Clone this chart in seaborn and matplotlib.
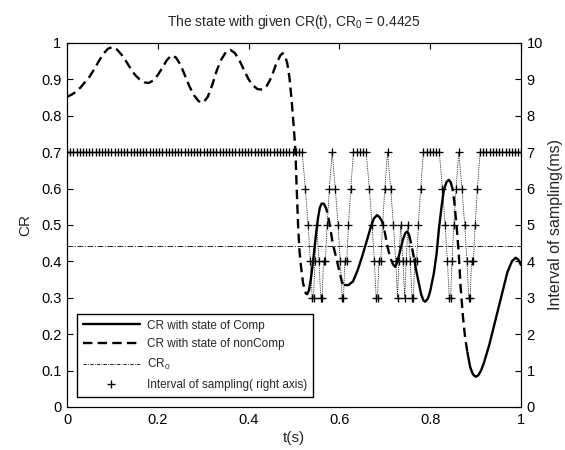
import numpy as np
import pandas as pd
import matplotlib
matplotlib.use("Agg")
import matplotlib.pyplot as plt
from matplotlib.lines import Line2D
import seaborn as sns

# ---------------- data ----------------
cr0 = 0.4425

# CR trajectory while the state is "nonComp" (dashed), one list per segment
noncomp_t = [
    [0.00, 0.01, 0.02, 0.03, 0.04, 0.05, 0.06, 0.07, 0.08, 0.09, 0.10, 0.11, 0.12, 0.13,
     0.14, 0.15, 0.16, 0.17, 0.18, 0.19, 0.20, 0.21, 0.22, 0.23, 0.24, 0.25, 0.26, 0.27,
     0.28, 0.29, 0.30, 0.31, 0.32, 0.33, 0.34, 0.35, 0.36, 0.37, 0.38, 0.39, 0.40, 0.41,
     0.42, 0.43, 0.44, 0.45, 0.46, 0.47, 0.475, 0.48, 0.485, 0.49, 0.495, 0.50, 0.503,
     0.506, 0.509, 0.512, 0.515, 0.52, 0.526, 0.529],
    [0.566, 0.571, 0.576, 0.580, 0.585, 0.590, 0.595, 0.600, 0.606, 0.612],
    [0.688, 0.694, 0.700, 0.706, 0.712, 0.718, 0.723],
    [0.753, 0.757, 0.761, 0.765],
    [0.845, 0.849, 0.853, 0.858, 0.863, 0.867, 0.872, 0.877, 0.882],
]
noncomp_cr = [
    [0.852, 0.858, 0.866, 0.878, 0.893, 0.908, 0.928, 0.950, 0.970, 0.984, 0.989, 0.982,
     0.968, 0.950, 0.930, 0.912, 0.900, 0.892, 0.890, 0.897, 0.912, 0.932, 0.953, 0.966,
     0.960, 0.940, 0.910, 0.880, 0.856, 0.840, 0.836, 0.852, 0.885, 0.925, 0.955, 0.975,
     0.981, 0.972, 0.952, 0.925, 0.900, 0.883, 0.873, 0.872, 0.882, 0.905, 0.940, 0.966,
     0.972, 0.965, 0.945, 0.905, 0.840, 0.760, 0.706, 0.600, 0.500, 0.430, 0.390, 0.340,
     0.312, 0.310],
    [0.558, 0.545, 0.520, 0.490, 0.452, 0.425, 0.400, 0.372, 0.342, 0.335],
    [0.522, 0.510, 0.480, 0.440, 0.410, 0.392, 0.385],
    [0.475, 0.455, 0.430, 0.405],
    [0.618, 0.600, 0.565, 0.500, 0.420, 0.330, 0.250, 0.190, 0.150],
]

# CR trajectory while the state is "Comp" (solid)
comp_t = [
    [0.529, 0.533, 0.537, 0.542, 0.548, 0.553, 0.557, 0.561, 0.566],
    [0.612, 0.620, 0.630, 0.640, 0.650, 0.660, 0.670, 0.676, 0.683, 0.688],
    [0.723, 0.728, 0.734, 0.740, 0.745, 0.749, 0.753],
    [0.765, 0.770, 0.775, 0.780, 0.785, 0.789, 0.795, 0.800, 0.808, 0.814, 0.819, 0.825,
     0.830, 0.836, 0.841, 0.845],
    [0.882, 0.888, 0.894, 0.900, 0.906, 0.912, 0.918, 0.930, 0.940, 0.950, 0.962, 0.970,
     0.980, 0.988, 0.994, 1.000],
]
comp_cr = [
    [0.310, 0.320, 0.350, 0.400, 0.470, 0.520, 0.548, 0.559, 0.558],
    [0.335, 0.335, 0.345, 0.375, 0.413, 0.455, 0.498, 0.518, 0.527, 0.522],
    [0.385, 0.400, 0.430, 0.460, 0.477, 0.482, 0.475],
    [0.405, 0.370, 0.340, 0.310, 0.293, 0.289, 0.298, 0.318, 0.367, 0.420, 0.486, 0.550,
     0.596, 0.618, 0.624, 0.618],
    [0.150, 0.110, 0.090, 0.083, 0.087, 0.100, 0.120, 0.170, 0.220, 0.270, 0.330, 0.370,
     0.400, 0.410, 0.405, 0.390],
]

# sampling interval (ms) of each consecutive sample
sample_interval_ms = (
    [7] * 75
    + [6, 5, 4, 3, 3, 4, 5, 4, 3, 3, 4, 4, 5, 6, 7]
    + [6, 5, 4, 3, 3, 4, 4, 5, 6, 7, 7, 7, 7, 7]
    + [6, 5, 4, 3, 3, 4, 4, 5, 6, 7]
    + [6, 5, 4, 3, 4, 5, 4, 3, 4, 5, 4, 3, 3, 4, 4, 5, 6, 7, 7, 7, 7, 7, 7]
    + [6, 5, 4, 3, 3, 4, 5, 6, 7]
    + [6, 5, 4, 3, 3, 4, 4, 5, 6]
    + [7] * 14
)

x_ticks = [0, 0.2, 0.4, 0.6, 0.8, 1]
x_ticklabels = ["0", "0.2", "0.4", "0.6", "0.8", "1"]
y_ticks = [0, 0.1, 0.2, 0.3, 0.4, 0.5, 0.6, 0.7, 0.8, 0.9, 1]
y_ticklabels = ["0", "0.1", "0.2", "0.3", "0.4", "0.5", "0.6", "0.7", "0.8", "0.9", "1"]
y2_ticks = [0, 1, 2, 3, 4, 5, 6, 7, 8, 9, 10]

legend_labels = ["CR with state of Comp", "CR with state of nonComp",
                 "CR$_\\mathregular{0}$", "Interval of sampling( right axis)"]

# ---------------- tables ----------------
def seg_frame(ts, crs):
    rows = []
    for i, (tt, cc) in enumerate(zip(ts, crs)):
        for a, b in zip(tt, cc):
            rows.append((a, b, i))
    return pd.DataFrame(rows, columns=["t", "cr", "seg"])

df_comp = seg_frame(comp_t, comp_cr)
df_noncomp = seg_frame(noncomp_t, noncomp_cr)
iv = np.array(sample_interval_ms, dtype=float)
sample_t = np.concatenate([[0.0], np.cumsum(iv[:-1]) / 1000.0])
df_samp = pd.DataFrame({"t": sample_t, "iv": iv})

# ---------------- style ----------------
sns.set_style("white")
plt.rcParams["font.family"] = ["Liberation Sans", "DejaVu Sans"]
plt.rcParams["mathtext.fontset"] = "custom"
plt.rcParams["mathtext.rm"] = "Liberation Sans"
plt.rcParams["xtick.direction"] = "in"
plt.rcParams["ytick.direction"] = "in"

fig = plt.figure(figsize=(5.65, 4.5), dpi=100)
ax = fig.add_axes([0.1186, 0.0956, 0.8035, 0.8089])
ax2 = ax.twinx()

sns.lineplot(data=df_noncomp, x="t", y="cr", units="seg", estimator=None, sort=False,
             color="black", lw=1.7, linestyle=(0, (4, 2.2)), ax=ax, legend=False)
sns.lineplot(data=df_comp, x="t", y="cr", units="seg", estimator=None, sort=False,
             color="black", lw=1.7, ax=ax, legend=False)
ax.axhline(cr0, color="black", lw=0.6, linestyle=(0, (7, 2, 1, 2)))

sns.lineplot(data=df_samp, x="t", y="iv", estimator=None, sort=False, ax=ax2,
             color="black", lw=0.6, linestyle=(0, (1, 1.2)), marker="+",
             markersize=5.5, markeredgecolor="black", mew=0.95, legend=False)

ax.set_xlim(0, 1)
ax.set_ylim(0, 1)
ax2.set_ylim(0, 10)
ax.set_xticks(x_ticks)
ax.set_xticklabels(x_ticklabels)
ax.set_yticks(y_ticks)
ax.set_yticklabels(y_ticklabels)
ax2.set_yticks(y2_ticks)
ax2.set_yticklabels([str(v) for v in y2_ticks])

for a in (ax, ax2):
    for s in a.spines.values():
        s.set_color("black")
        s.set_linewidth(0.8)
    a.tick_params(labelsize=10.5, length=4, width=0.8, colors="black", pad=4)
ax.tick_params(top=True, right=False)
ax2.tick_params(right=True, left=False)

ax.set_xlabel("t(s)", fontsize=11, labelpad=3)
ax.set_ylabel("CR", fontsize=11, labelpad=6)
ax2.set_ylabel("Interval of sampling(ms)", fontsize=11.5, labelpad=4)
ax.set_title("The state with given CR(t), CR$_\\mathregular{0}$ = 0.4425",
             fontsize=10, pad=12)

handles = [
    Line2D([], [], color="black", lw=1.7),
    Line2D([], [], color="black", lw=1.7, linestyle=(0, (4, 2.2))),
    Line2D([], [], color="black", lw=0.6, linestyle=(0, (4, 1.5, 1, 1.5))),
    Line2D([], [], color="black", lw=0, marker="+", markersize=5.5, mew=0.95),
]
leg = ax2.legend(handles, legend_labels, loc="lower left",
                 bbox_to_anchor=(0.022, 0.027), borderaxespad=0, fontsize=8.5,
                 handlelength=4.8, handletextpad=0.6, labelspacing=0.58,
                 frameon=True, fancybox=False, framealpha=1, edgecolor="black",
                 borderpad=0.5)
leg.get_frame().set_linewidth(1.0)

fig.savefig("out.png", dpi=100)
